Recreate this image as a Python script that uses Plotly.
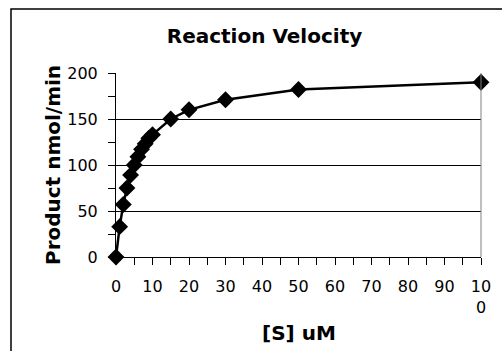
import plotly.graph_objects as go

substrate_uM = [0, 1, 2, 3, 4, 5, 6, 7, 8, 9, 10, 15, 20, 30, 50, 100]
velocity = [0, 33, 57, 75, 89, 100, 109, 117, 123, 129, 133, 150, 160, 171, 182, 190]

x_tick_vals = [0, 10, 20, 30, 40, 50, 60, 70, 80, 90, 100]
x_tick_text = ["0", "10", "20", "30", "40", "50", "60", "70", "80", "90", "10<br>0"]
y_tick_vals = [0, 50, 100, 150, 200]

FONT = "DejaVu Sans"

fig = go.Figure()
fig.add_trace(go.Scatter(
    x=substrate_uM, y=velocity, mode="lines+markers",
    line=dict(color="black", width=2.5),
    marker=dict(symbol="diamond", size=13, color="black"),
    cliponaxis=False, showlegend=False,
))

fig.update_layout(
    width=502, height=351,
    margin=dict(l=116, r=21, t=73, b=94),
    paper_bgcolor="white", plot_bgcolor="white",
    font=dict(family=FONT, color="black", size=16),
    title=dict(text="<b>Reaction Velocity</b>", font=dict(size=20, family=FONT),
               x=264.5 / 502, xanchor="center", xref="container",
               y=1 - 36 / 351, yanchor="middle", yref="container"),
    xaxis=dict(range=[0, 100], tickvals=x_tick_vals, ticktext=x_tick_text,
               showgrid=False, zeroline=False, showline=True, linecolor="black", linewidth=1,
               ticks="outside", ticklen=7, tickcolor="black", tickwidth=1,
               ticklabelstandoff=8,
               minor=dict(dtick=5, ticks="outside", ticklen=7, tickcolor="black", showgrid=False),
               tickfont=dict(size=16), mirror=False),
    yaxis=dict(range=[0, 200], tickvals=y_tick_vals,
               showgrid=True, gridcolor="black", gridwidth=1, zeroline=False,
               showline=True, linecolor="black", linewidth=1,
               ticks="outside", ticklen=7, tickcolor="black", tickwidth=1,
               ticklabelstandoff=7,
               minor=dict(dtick=25, ticks="outside", ticklen=7, tickcolor="black", showgrid=False),
               tickfont=dict(size=16)),
    annotations=[
        dict(text="<b>Product nmol/min</b>", textangle=-90, xref="paper", yref="paper",
             x=(53 - 116) / 365, y=0.5, xanchor="center", yanchor="middle",
             showarrow=False, font=dict(size=20, family=FONT)),
        dict(text="<b>[S] uM</b>", xref="paper", yref="paper",
             x=0.5, y=(257 - 333) / 184, xanchor="center", yanchor="middle",
             showarrow=False, font=dict(size=20, family=FONT)),
    ],
    shapes=[
        # plot-area right border (gray)
        dict(type="line", xref="paper", yref="paper", x0=1, x1=1, y0=0, y1=1,
             line=dict(color="#808080", width=1)),
        # outer chart border (left and top edges visible)
        dict(type="rect", xref="paper", yref="paper",
             x0=(11 - 116) / 365, x1=1.5, y0=-1.0, y1=(257 - 9) / 184,
             line=dict(color="black", width=1.5), layer="below"),
    ],
)

fig.write_html("out.html")
